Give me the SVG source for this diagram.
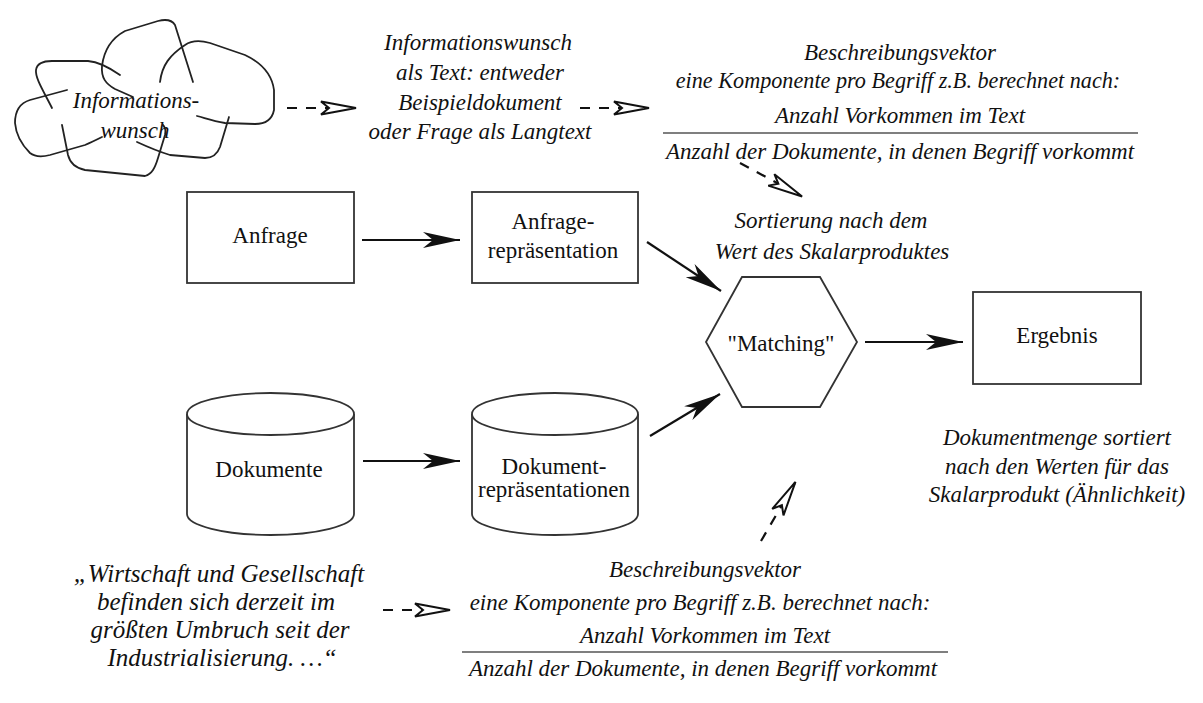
<svg xmlns="http://www.w3.org/2000/svg" width="1203" height="703" viewBox="0 0 1203 703">
<style>
text{font-family:'Liberation Serif','Times New Roman',Tinos,Times,'DejaVu Serif',serif;font-size:23px;fill:#111;text-anchor:middle}
.i{font-style:italic}
.q{font-size:25px}
.shape{fill:#fff;stroke:#333;stroke-width:1.8}
.cloud{fill:none;stroke:#222;stroke-width:1.8;stroke-linecap:round;stroke-linejoin:round}
.solid{stroke:#111;stroke-width:2.2;fill:none}
.dash{stroke:#111;stroke-width:2.2;fill:none;stroke-dasharray:10 9}
.frac{stroke:#555;stroke-width:1.6}
</style>
<defs>
<marker id="ah" markerUnits="userSpaceOnUse" markerWidth="44" markerHeight="24" refX="40" refY="12" orient="auto" viewBox="0 0 44 24">
<path d="M40,12 L3,4 L13,12 L3,20 Z" fill="#111"/>
</marker>
<marker id="oh" markerUnits="userSpaceOnUse" markerWidth="44" markerHeight="20" refX="40" refY="10" orient="auto" viewBox="0 0 44 20">
<path d="M39,10 L4,3.5 L12,10 L4,16.5 Z" fill="#fff" stroke="#111" stroke-width="2" stroke-linejoin="miter"/>
</marker>
</defs>
<rect width="1203" height="703" fill="#fff"/>

<g id="cloud">
<path class="cloud" d="M52,108 C44,92 35,78 36,70 C37,63 43,61 52,61 L88,61 C100,62 110,68 120,75"/>
<path class="cloud" d="M193,82 L175,25 C172,20 166,19 158,21 L125,31 C112,38 104,50 102,66 C101,78 106,84 115,89 L133,97"/>
<path class="cloud" d="M160,82 C162,65 170,55 185,45 C192,40 200,40 210,43 L245,55 C262,63 272,75 274,90 L274,110 C272,120 265,124 255,124 L225,123 C212,121 205,118 197,116"/>
<path class="cloud" d="M229,117 L220,147 C217,155 212,158 205,158 L170,155 C160,152 150,148 137,142"/>
<path class="cloud" d="M62,125 L68,155 C70,163 75,168 85,170 L145,176 C152,174 155,168 158,158 L165,135 C166,130 165,127 163,125"/>
<path class="cloud" d="M67,90 L30,100 C20,103 15,110 15,123 C16,135 22,145 30,153 C35,157 42,157 50,155 L85,145 C92,142 98,139 102,137"/>
<text class="i" x="136" y="108">Informations-</text>
<text class="i" x="135" y="138">wunsch</text>
</g>

<g id="wunschtext">
<text class="i" x="478" y="50">Informationswunsch</text>
<text class="i" x="480" y="80">als Text: entweder</text>
<text class="i" x="480" y="110">Beispieldokument</text>
<text class="i" x="480" y="139">oder Frage als Langtext</text>
</g>

<g id="vektor-oben">
<text class="i" x="900" y="60">Beschreibungsvektor</text>
<text class="i" x="898" y="88" style="font-size:22.2px">eine Komponente pro Begriff z.B. berechnet nach:</text>
<text class="i" x="900" y="123">Anzahl Vorkommen im Text</text>
<line class="frac" x1="663" y1="133" x2="1138" y2="133"/>
<text class="i" x="900" y="159">Anzahl der Dokumente, in denen Begriff vorkommt</text>
</g>

<g id="sortierung">
<text class="i" x="831" y="228">Sortierung nach dem</text>
<text class="i" x="832" y="259">Wert des Skalarproduktes</text>
</g>

<g id="anfrage">
<rect class="shape" x="187" y="192" width="167" height="91"/>
<text x="270" y="243">Anfrage</text>
</g>

<g id="anfragerep">
<rect class="shape" x="472" y="192" width="166" height="91"/>
<text x="553" y="229">Anfrage-</text>
<text x="553" y="258">repräsentation</text>
</g>

<g id="matching">
<polygon class="shape" points="706,342 742,277 820,277 857,342 820,407 742,407"/>
<text x="781" y="351">"Matching"</text>
</g>

<g id="ergebnis">
<rect class="shape" x="973" y="292" width="168" height="92"/>
<text x="1057" y="343">Ergebnis</text>
</g>

<g id="ergebnistext">
<text class="i" x="1057" y="445">Dokumentmenge sortiert</text>
<text class="i" x="1057" y="474">nach den Werten für das</text>
<text class="i" x="1057" y="502">Skalarprodukt (Ähnlichkeit)</text>
</g>

<g id="dokumente">
<path class="shape" d="M187,414 L187,514 A83.5,21 0 0 0 354,514 L354,414"/>
<ellipse class="shape" cx="270.5" cy="414" rx="83.5" ry="21"/>
<text x="269" y="477">Dokumente</text>
</g>

<g id="dokumentrep">
<path class="shape" d="M472,414 L472,514 A83,21 0 0 0 638,514 L638,414"/>
<ellipse class="shape" cx="555" cy="414" rx="83" ry="21"/>
<text x="554" y="474">Dokument-</text>
<text x="554" y="497">repräsentationen</text>
</g>

<g id="zitat">
<text class="i q" x="219" y="582">„Wirtschaft und Gesellschaft</text>
<text class="i q" x="216" y="610">befinden sich derzeit im</text>
<text class="i q" x="220" y="638">größten Umbruch seit der</text>
<text class="i q" x="222" y="666">Industrialisierung. …“</text>
</g>

<g id="vektor-unten">
<text class="i" x="705" y="577">Beschreibungsvektor</text>
<text class="i" x="700" y="610">eine Komponente pro Begriff z.B. berechnet nach:</text>
<text class="i" x="705" y="643">Anzahl Vorkommen im Text</text>
<line class="frac" x1="462" y1="652" x2="948" y2="652"/>
<text class="i" x="703" y="676">Anzahl der Dokumente, in denen Begriff vorkommt</text>
</g>

<g id="connectors">
<line class="solid" x1="362" y1="240" x2="460" y2="240" marker-end="url(#ah)"/>
<line class="solid" x1="363" y1="461" x2="460" y2="461" marker-end="url(#ah)"/>
<line class="solid" x1="647" y1="242" x2="721" y2="291" marker-end="url(#ah)"/>
<line class="solid" x1="650" y1="436" x2="720" y2="394" marker-end="url(#ah)"/>
<line class="solid" x1="865" y1="342" x2="963" y2="342" marker-end="url(#ah)"/>
<line class="dash" x1="287" y1="108" x2="357" y2="108" marker-end="url(#oh)"/>
<line class="dash" x1="580" y1="108" x2="650" y2="108" marker-end="url(#oh)"/>
<line class="dash" x1="740" y1="163" x2="803" y2="197" marker-end="url(#oh)"/>
<line class="dash" x1="761" y1="541" x2="796" y2="481" marker-end="url(#oh)"/>
<line class="dash" x1="383" y1="610" x2="451" y2="610" marker-end="url(#oh)"/>
</g>
</svg>
